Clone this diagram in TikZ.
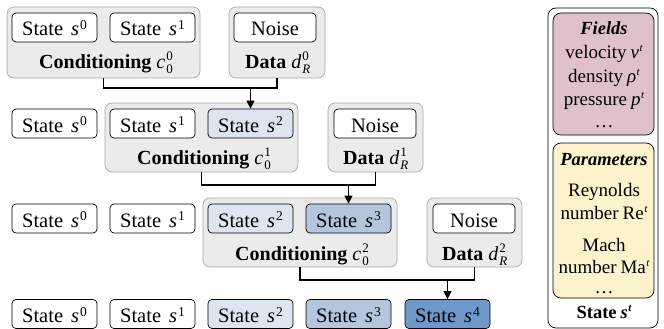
\documentclass[tikz,border=0pt]{standalone}
\usepackage{fontspec}
\setmainfont{Liberation Serif}
\usetikzlibrary{arrows.meta}
\definecolor{grpfill}{HTML}{EBEBEB}
\definecolor{grpdraw}{HTML}{A8A8A8}
\definecolor{bluea}{HTML}{DDE6F0}
\definecolor{blueb}{HTML}{B3C6DE}
\definecolor{bluec}{HTML}{6E98CA}
\definecolor{fieldfill}{HTML}{DFC1CB}
\definecolor{paramfill}{HTML}{FCF2CC}
\newcommand\supx[1]{\raisebox{6.5pt}{\fontsize{13.5}{13.5}\selectfont #1}}
\newcommand\supt{\kern0.5pt\raisebox{7pt}{\fontsize{11}{11}\selectfont\itshape t}}
\newcommand\sv[1]{\hspace{8pt}\textit{s}\kern1pt\supx{#1}}
\newcommand\scnd[3]{\hspace{5pt}{\mdseries\textit{#1}\kern1pt\rlap{\raisebox{8pt}{\fontsize{13}{13}\selectfont #2}}\raisebox{-5pt}{\fontsize{13}{13}\selectfont #3}}}
\tikzset{
  every node/.style={font=\fontsize{20.5}{24}\selectfont},
  st/.style={draw=black, rounded corners=4pt, minimum width=85pt, minimum height=29pt, inner sep=0pt, text height=17pt, text depth=0pt, fill=white, line width=0.7pt},
  nz/.style={st, minimum width=82pt},
  grp/.style={draw=grpdraw, fill=grpfill, rounded corners=7pt, line width=0.7pt, inner sep=0pt},
  lbl/.style={inner sep=0pt, anchor=base west, font=\fontsize{20}{24}\selectfont\bfseries},
  conn/.style={line width=1.1pt},
  arr/.style={conn, -{Triangle[width=8pt,length=8pt]}},
  panel/.style={draw=black, rounded corners=8pt, line width=0.7pt, inner sep=0pt},
  txt/.style={inner sep=0pt, anchor=base, font=\fontsize{19}{22}\selectfont},
  btxt/.style={txt, font=\fontsize{18.5}{22}\selectfont\bfseries},
}
\begin{document}
\begin{tikzpicture}[x=1pt,y=-1pt]
\useasboundingbox (0,0) rectangle (664,329);
% ---------- row 1
\node[grp, minimum width=193pt, minimum height=71pt] (g1) at (103.5,42.5) {};
\node[grp, minimum width=96pt, minimum height=71pt] (d1) at (277,42.5) {};
\node[st] (r1s0) at (54.5,27.5) {State\sv{0}};
\node[st] (r1s1) at (152.5,27.5) {State\sv{1}};
\node[nz] (r1n) at (275,27.5) {Noise};
\node[lbl] (g1l) at (39,68.5) {Conditioning\scnd{c}{0}{0}};
\node[lbl] (d1l) at (245,68.5) {Data\scnd{d}{0}{\textit{R}}};
% ---------- row 2
\node[grp, minimum width=193pt, minimum height=69pt] (g2) at (201.5,137.5) {};
\node[grp, minimum width=95pt, minimum height=69pt] (d2) at (375.5,137.5) {};
\node[st] (r2s0) at (54.5,123.5) {State\sv{0}};
\node[st] (r2s1) at (152.5,123.5) {State\sv{1}};
\node[st, fill=bluea] (r2s2) at (250.5,123.5) {State\sv{2}};
\node[nz] (r2n) at (375,123.5) {Noise};
\node[lbl] (g2l) at (137,164) {Conditioning\scnd{c}{1}{0}};
\node[lbl] (d2l) at (343,164) {Data\scnd{d}{1}{\textit{R}}};
% ---------- row 3
\node[grp, minimum width=194pt, minimum height=69pt] (g3) at (300,232.5) {};
\node[grp, minimum width=95pt, minimum height=69pt] (d3) at (474.5,232.5) {};
\node[st] (r3s0) at (54.5,218.5) {State\sv{0}};
\node[st] (r3s1) at (152.5,218.5) {State\sv{1}};
\node[st, fill=bluea] (r3s2) at (250.5,218.5) {State\sv{2}};
\node[st, fill=blueb] (r3s3) at (348.5,218.5) {State\sv{3}};
\node[nz] (r3n) at (474,218.5) {Noise};
\node[lbl] (g3l) at (235,260) {Conditioning\scnd{c}{2}{0}};
\node[lbl] (d3l) at (442,260) {Data\scnd{d}{2}{\textit{R}}};
% ---------- row 4
\node[st] (r4s0) at (54.5,314) {State\sv{0}};
\node[st] (r4s1) at (152.5,314) {State\sv{1}};
\node[st, fill=bluea] (r4s2) at (250.5,314) {State\sv{2}};
\node[st, fill=blueb] (r4s3) at (348.5,314) {State\sv{3}};
\node[st, fill=bluec] (r4s4) at (447.5,314) {State\sv{4}};
% ---------- connectors
\coordinate (j1) at (250.5,88);
\coordinate (j2) at (348.5,185);
\coordinate (j3) at (447.5,280);
\draw[conn] (g1.south) |- (j1) -| (d1.south);
\draw[arr] (j1) -- (r2s2.north);
\draw[conn] (g2.south) |- (j2) -| (d2.south);
\draw[arr] (j2) -- (r3s3.north);
\draw[conn] (g3.south) |- (j3) -| (d3.south);
\draw[arr] (j3) -- (r4s4.north);
% ---------- right panel
\node[panel, fill=white, minimum width=110pt, minimum height=320pt] (pan) at (603,168) {};
\node[panel, fill=fieldfill, minimum width=101pt, minimum height=122pt] (fld) at (603.5,74) {};
\node[panel, fill=paramfill, minimum width=101pt, minimum height=155pt] (par) at (603.5,220.5) {};
\node[btxt] (f0) at (604,35) {\textit{Fields}};
\node[txt] (f1) at (604,59) {velocity\hspace{4pt}\textit{v}\supt};
\node[txt] (f2) at (604,82) {density\hspace{4pt}\textit{ρ}\supt};
\node[txt] (f3) at (604,105) {pressure\hspace{4pt}\textit{p}\supt};
\node[txt] (f4) at (604,127) {\dots};
\node[btxt] (p0) at (604,165) {\textit{Parameters}};
\node[txt] (p1) at (604,196) {Reynolds};
\node[txt] (p2) at (604,219) {number\hspace{4pt}Re\supt};
\node[txt] (p3) at (604,251) {Mach};
\node[txt] (p4) at (604,273) {number\hspace{4pt}Ma\supt};
\node[txt] (p5) at (604,293) {\dots};
\node[btxt] (stl) at (604,318) {State\hspace{4pt}\textit{s}\supt};
\end{tikzpicture}
\end{document}
